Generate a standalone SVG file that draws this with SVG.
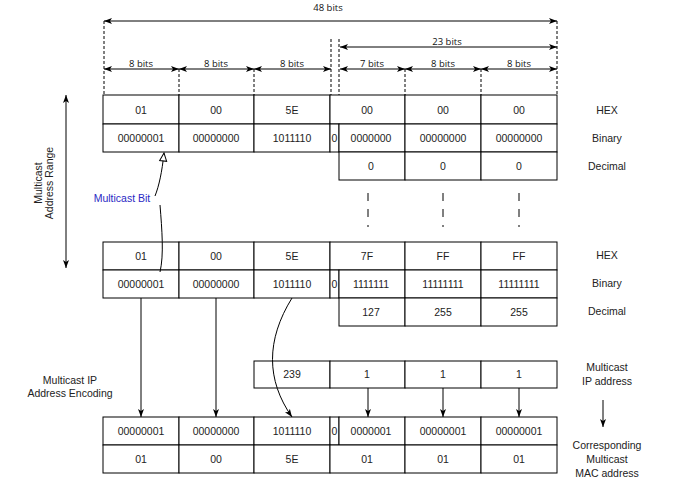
<svg xmlns="http://www.w3.org/2000/svg" width="676" height="480" viewBox="0 0 676 480">
<style>
.cell{fill:#fff;stroke:#000;stroke-width:1}
.t{font-family:"Liberation Sans",Arial,sans-serif;font-size:10.5px;fill:#222;text-anchor:middle}
.d{font-family:"Open Sans","Noto Sans",sans-serif;font-size:9.5px;fill:#111;text-anchor:middle}
.dash{stroke:#000;stroke-width:1;stroke-dasharray:3,2;fill:none}
.dim{stroke:#000;stroke-width:1;fill:none;marker-start:url(#da);marker-end:url(#da)}
.arr{stroke:#000;stroke-width:1;fill:none;marker-end:url(#ah)}
.ln{stroke:#000;stroke-width:1;fill:none}
</style>
<defs>
<marker id="da" viewBox="0 0 8 8" refX="8" refY="4" markerWidth="8" markerHeight="8" markerUnits="userSpaceOnUse" orient="auto-start-reverse">
<path d="M0,1 L8,4 L0,7 L2,4 Z" fill="#000"/>
</marker>
<marker id="ah" viewBox="0 0 8 8" refX="8" refY="4" markerWidth="8" markerHeight="8" markerUnits="userSpaceOnUse" orient="auto-start-reverse">
<path d="M0,1 L8,4 L0,7 L2,4 Z" fill="#000"/>
</marker>
<marker id="hollow" viewBox="0 0 10 10" refX="9" refY="5" markerWidth="10" markerHeight="10" markerUnits="userSpaceOnUse" orient="auto">
<path d="M1,1.5 L9,5 L1,8.5 Z" fill="#fff" stroke="#000" stroke-width="1"/>
</marker>
</defs>
<rect width="676" height="480" fill="#fff"/>

<g id="dimensions">
<line class="dash" x1="104" y1="21" x2="104" y2="95"/>
<line class="dash" x1="557" y1="21" x2="557" y2="95"/>
<line class="dash" x1="331" y1="39" x2="331" y2="95"/>
<line class="dash" x1="339" y1="39" x2="339" y2="95"/>
<line class="dash" x1="179" y1="69" x2="179" y2="95"/>
<line class="dash" x1="254" y1="69" x2="254" y2="95"/>
<line class="dash" x1="405" y1="69" x2="405" y2="95"/>
<line class="dash" x1="481" y1="69" x2="481" y2="95"/>
<line class="dim" x1="104" y1="21" x2="557" y2="21"/>
<line class="dim" x1="340" y1="47" x2="557" y2="47"/>
<line class="dim" x1="104" y1="69" x2="179" y2="69"/>
<line class="dim" x1="179" y1="69" x2="254" y2="69"/>
<line class="dim" x1="254" y1="69" x2="331" y2="69"/>
<line class="dim" x1="340" y1="69" x2="405" y2="69"/>
<line class="dim" x1="405" y1="69" x2="481" y2="69"/>
<line class="dim" x1="481" y1="69" x2="557" y2="69"/>
<text class="d" x="328" y="11">48 bits</text>
<text class="d" x="447" y="45">23 bits</text>
<text class="d" x="141" y="67">8 bits</text>
<text class="d" x="216" y="67">8 bits</text>
<text class="d" x="292" y="67">8 bits</text>
<text class="d" x="372" y="67">7 bits</text>
<text class="d" x="443" y="67">8 bits</text>
<text class="d" x="519" y="67">8 bits</text>
</g>

<g id="table-start">
<rect class="cell" x="103" y="95" width="76" height="29"/>
<rect class="cell" x="179" y="95" width="75" height="29"/>
<rect class="cell" x="254" y="95" width="76" height="29"/>
<rect class="cell" x="330" y="95" width="75" height="29"/>
<rect class="cell" x="405" y="95" width="76" height="29"/>
<rect class="cell" x="481" y="95" width="76" height="29"/>
<rect class="cell" x="103" y="124" width="76" height="28"/>
<rect class="cell" x="179" y="124" width="75" height="28"/>
<rect class="cell" x="254" y="124" width="76" height="28"/>
<rect class="cell" x="330" y="124" width="9" height="28"/>
<rect class="cell" x="339" y="124" width="66" height="28"/>
<rect class="cell" x="405" y="124" width="76" height="28"/>
<rect class="cell" x="481" y="124" width="76" height="28"/>
<rect class="cell" x="339" y="152" width="66" height="28"/>
<rect class="cell" x="405" y="152" width="76" height="28"/>
<rect class="cell" x="481" y="152" width="76" height="28"/>
<text class="t" x="141" y="114">01</text>
<text class="t" x="216" y="114">00</text>
<text class="t" x="292" y="114">5E</text>
<text class="t" x="367" y="114">00</text>
<text class="t" x="443" y="114">00</text>
<text class="t" x="519" y="114">00</text>
<text class="t" x="141" y="142">00000001</text>
<text class="t" x="216" y="142">00000000</text>
<text class="t" x="292" y="142">1011110</text>
<text class="t" x="334.5" y="142">0</text>
<text class="t" x="371" y="142">0000000</text>
<text class="t" x="443" y="142">00000000</text>
<text class="t" x="519" y="142">00000000</text>
<text class="t" x="371" y="170">0</text>
<text class="t" x="443" y="170">0</text>
<text class="t" x="519" y="170">0</text>
</g>

<g id="labels-start">
<text class="t" x="607" y="114">HEX</text>
<text class="t" x="607" y="142">Binary</text>
<text class="t" x="607" y="170">Decimal</text>
</g>

<g id="range-dots">
<line class="ln" x1="368" y1="193" x2="368" y2="227" stroke-dasharray="8,8"/>
<line class="ln" x1="443" y1="193" x2="443" y2="227" stroke-dasharray="8,8"/>
<line class="ln" x1="519" y1="193" x2="519" y2="227" stroke-dasharray="8,8"/>
</g>

<g id="table-end">
<rect class="cell" x="103" y="242" width="76" height="28"/>
<rect class="cell" x="179" y="242" width="75" height="28"/>
<rect class="cell" x="254" y="242" width="76" height="28"/>
<rect class="cell" x="330" y="242" width="75" height="28"/>
<rect class="cell" x="405" y="242" width="76" height="28"/>
<rect class="cell" x="481" y="242" width="76" height="28"/>
<rect class="cell" x="103" y="270" width="76" height="28"/>
<rect class="cell" x="179" y="270" width="75" height="28"/>
<rect class="cell" x="254" y="270" width="76" height="28"/>
<rect class="cell" x="330" y="270" width="9" height="28"/>
<rect class="cell" x="339" y="270" width="66" height="28"/>
<rect class="cell" x="405" y="270" width="76" height="28"/>
<rect class="cell" x="481" y="270" width="76" height="28"/>
<rect class="cell" x="339" y="298" width="66" height="28"/>
<rect class="cell" x="405" y="298" width="76" height="28"/>
<rect class="cell" x="481" y="298" width="76" height="28"/>
<text class="t" x="141" y="260">01</text>
<text class="t" x="216" y="260">00</text>
<text class="t" x="292" y="260">5E</text>
<text class="t" x="367" y="260">7F</text>
<text class="t" x="443" y="260">FF</text>
<text class="t" x="519" y="260">FF</text>
<text class="t" x="141" y="288">00000001</text>
<text class="t" x="216" y="288">00000000</text>
<text class="t" x="292" y="288">1011110</text>
<text class="t" x="334.5" y="288">0</text>
<text class="t" x="371" y="288">1111111</text>
<text class="t" x="443" y="288">11111111</text>
<text class="t" x="519" y="288">11111111</text>
<text class="t" x="371" y="316">127</text>
<text class="t" x="443" y="316">255</text>
<text class="t" x="519" y="316">255</text>
</g>

<g id="labels-end">
<text class="t" x="607" y="259">HEX</text>
<text class="t" x="607" y="287">Binary</text>
<text class="t" x="607" y="315">Decimal</text>
</g>

<g id="range-label">
<text class="t" transform="translate(43,183) rotate(-90)"><tspan x="0" y="-1">Multicast</tspan><tspan x="0" y="10">Address Range</tspan></text>
</g>

<g id="multicast-bit">
<text class="t" x="122" y="202" style="fill:#2929c4">Multicast Bit</text>
</g>

<g id="ip-row">
<rect class="cell" x="254" y="361" width="76" height="27"/>
<rect class="cell" x="330" y="361" width="75" height="27"/>
<rect class="cell" x="405" y="361" width="76" height="27"/>
<rect class="cell" x="481" y="361" width="76" height="27"/>
<text class="t" x="292" y="378">239</text>
<text class="t" x="367" y="378">1</text>
<text class="t" x="443" y="378">1</text>
<text class="t" x="519" y="378">1</text>
</g>

<g id="ip-label">
<text class="t" x="607" y="371">Multicast</text>
<text class="t" x="607" y="385">IP address</text>
</g>

<g id="encoding-label">
<text class="t" x="70" y="384">Multicast IP</text>
<text class="t" x="70" y="397">Address Encoding</text>
</g>

<g id="table-mac">
<rect class="cell" x="103" y="417" width="76" height="28"/>
<rect class="cell" x="179" y="417" width="75" height="28"/>
<rect class="cell" x="254" y="417" width="76" height="28"/>
<rect class="cell" x="330" y="417" width="9" height="28"/>
<rect class="cell" x="339" y="417" width="66" height="28"/>
<rect class="cell" x="405" y="417" width="76" height="28"/>
<rect class="cell" x="481" y="417" width="76" height="28"/>
<rect class="cell" x="103" y="445" width="76" height="28"/>
<rect class="cell" x="179" y="445" width="75" height="28"/>
<rect class="cell" x="254" y="445" width="76" height="28"/>
<rect class="cell" x="330" y="445" width="75" height="28"/>
<rect class="cell" x="405" y="445" width="76" height="28"/>
<rect class="cell" x="481" y="445" width="76" height="28"/>
<text class="t" x="141" y="435">00000001</text>
<text class="t" x="216" y="435">00000000</text>
<text class="t" x="292" y="435">1011110</text>
<text class="t" x="334.5" y="435">0</text>
<text class="t" x="371" y="435">0000001</text>
<text class="t" x="443" y="435">00000001</text>
<text class="t" x="519" y="435">00000001</text>
<text class="t" x="141" y="463">01</text>
<text class="t" x="216" y="463">00</text>
<text class="t" x="292" y="463">5E</text>
<text class="t" x="367" y="463">01</text>
<text class="t" x="443" y="463">01</text>
<text class="t" x="519" y="463">01</text>
</g>

<g id="mac-label">
<text class="t" x="607" y="449">Corresponding</text>
<text class="t" x="607" y="463">Multicast</text>
<text class="t" x="607" y="477">MAC address</text>
</g>

<g id="connectors">
<line class="dim" x1="66" y1="95" x2="66" y2="268"/>
<path class="ln" d="M155,196 C159,186 162,172 164,153" marker-end="url(#hollow)"/>
<path class="ln" d="M160,205 C162,230 164,255 160,272"/>
<line class="arr" x1="141" y1="298" x2="141" y2="417"/>
<line class="arr" x1="216" y1="298" x2="216" y2="417"/>
<path class="arr" d="M292,298 C266,340 266,380 292,417"/>
<line class="arr" x1="368" y1="388" x2="368" y2="417"/>
<line class="arr" x1="443" y1="388" x2="443" y2="417"/>
<line class="arr" x1="519" y1="388" x2="519" y2="417"/>
<line class="arr" x1="603" y1="400" x2="603" y2="427"/>
</g>
</svg>
